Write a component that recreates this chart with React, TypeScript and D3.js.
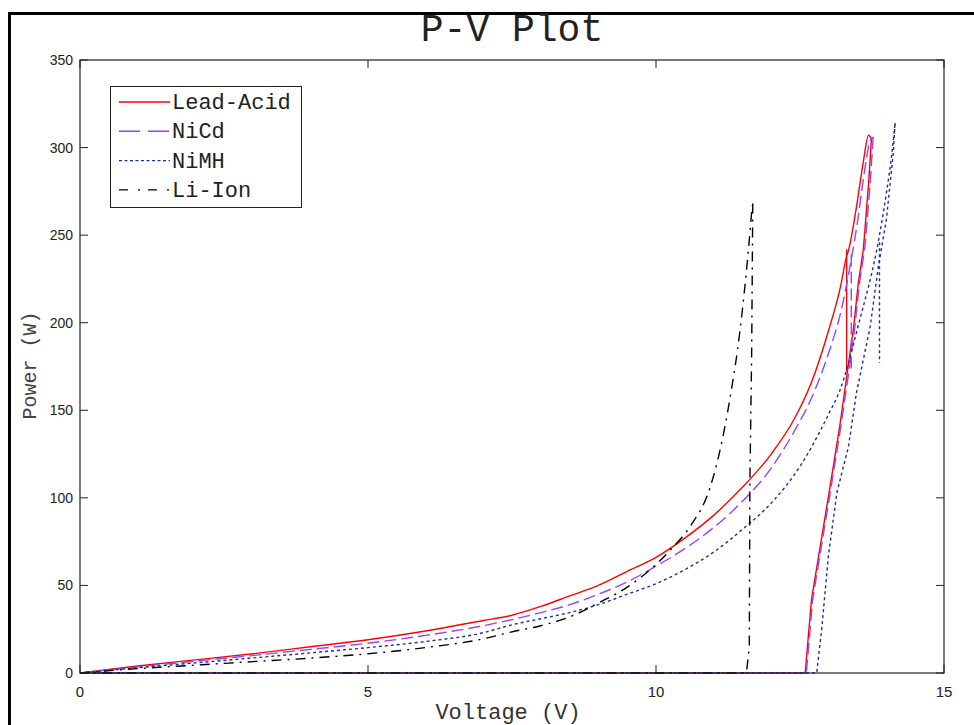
import React from "react";
import * as d3 from "d3";

type Pt = [number, number];

const seriesNames = ["Lead-Acid", "NiCd", "NiMH", "Li-Ion"];
const xTicks = [0, 5, 10, 15];
const yTicks = [0, 50, 100, 150, 200, 250, 300, 350];

// Lead-Acid
const leadRise: Pt[] = [[0,0],[1,4],[2,7.5],[3,11],[4,15],[5,19],[6,24],[7,30],[7.5,33],[8,38],[8.5,44],[9,50],[9.5,58],[10,66],[10.5,77],[11,90],[11.5,106],[12,125],[12.4,145],[12.7,166],[13.0,196],[13.2,220],[13.31,238],[13.34,241],[13.48,266],[13.6,292],[13.69,307],[13.74,305]];
const leadFall: Pt[] = [[13.74,305],[13.69,279],[13.6,242],[13.51,222],[13.43,197],[13.34,176],[13.19,141],[13.02,106],[12.85,72],[12.7,42],[12.59,0],[0,0]];
const leadDrop: Pt[] = [[13.31,242],[13.31,172]];

// NiCd
const nicdRise: Pt[] = [[0,0],[1,3.5],[2,6.8],[3,10],[4,13.5],[5,17],[6,21.5],[7,27],[7.5,30.5],[8,34.5],[8.5,39],[9,45],[9.5,52],[10,61],[10.5,71],[11,83],[11.5,98],[12,117],[12.4,138],[12.7,157],[13.0,183],[13.2,205],[13.39,236],[13.5,258],[13.6,282],[13.72,304],[13.77,306]];
const nicdFall: Pt[] = [[13.77,306],[13.72,280],[13.63,244],[13.53,222],[13.45,197],[13.37,177],[13.21,141],[13.04,106],[12.87,72],[12.72,42],[12.61,0],[0,0]];
const nicdDrop: Pt[] = [[13.39,239],[13.39,172]];

// NiMH
const nimhRise: Pt[] = [[0,0],[1,3],[2,5.8],[3,8.6],[4,11.5],[5,14.5],[6,18],[7,23],[7.5,27.5],[8,31],[8.5,34.5],[9,39],[9.5,45],[10,51],[10.5,59],[11,69],[11.5,82],[12,97],[12.5,118],[13,148],[13.2,162],[13.5,197],[13.88,250],[14.0,274],[14.1,298],[14.15,314]];
const nimhFall: Pt[] = [[14.15,314],[14.12,297],[14.0,259],[13.86,232],[13.72,198],[13.6,179],[13.48,160],[13.34,129],[13.14,103],[12.99,66],[12.88,26],[12.79,0],[0,0]];
const nimhDrop: Pt[] = [[13.88,246],[13.88,177]];

// Li-Ion
const liRise: Pt[] = [[0,0],[1,2.5],[2,4.5],[3,6.5],[4,8.5],[5,11],[6,14.5],[7,19.5],[7.5,23.5],[8,27],[8.5,32],[9,40],[9.5,49],[10,62],[10.3,72],[10.6,84],[10.94,106],[11.11,127],[11.28,156],[11.46,196],[11.6,240],[11.67,267]];
const liFall: Pt[] = [[11.68,268],[11.66,180],[11.63,110],[11.62,15],[11.57,0],[0,0]];

const seriesColors = ["#ff0000", "#9a40ff", "#1f2f99", "#000000"];
const plotDash = ["", "12,5", "3,3", "10,6,2,6"];
const legendDash = ["", "21,8", "3,2.5", "9,10,2,8"];
const seriesRise: Pt[][] = [leadRise, nicdRise, nimhRise, liRise];
const seriesOther: Pt[][][] = [
  [leadFall, leadDrop],
  [nicdFall, nicdDrop],
  [nimhFall, nimhDrop],
  [liFall],
];

const W = 974, H = 725;
const L = 80, R = 944, T = 60, B = 673;

export default function App() {
  const x = d3.scaleLinear().domain([0, 15]).range([L, R]);
  const y = d3.scaleLinear().domain([0, 350]).range([B, T]);
  const line = d3.line<Pt>().x(d => x(d[0])).y(d => y(d[1]));
  const smooth = d3.line<Pt>().x(d => x(d[0])).y(d => y(d[1])).curve(d3.curveMonotoneX);
  const mono = "'Liberation Mono', 'Courier New', monospace";
  const sans = "'Liberation Sans', Arial, sans-serif";
  const tickLen = 8;
  return (
    <svg width={W} height={H} style={{ position: "absolute", left: 0, top: 0, background: "#fff" }}>
      <defs>
        <clipPath id="clip"><rect x={L} y={T - 2} width={R - L} height={B - T + 4} /></clipPath>
      </defs>
      <rect x={0} y={0} width={W} height={H} fill="#fff" />
      {/* outer frame */}
      <line x1={9.5} y1={12} x2={9.5} y2={H} stroke="#000" strokeWidth={3} />
      <line x1={8} y1={13.5} x2={W} y2={13.5} stroke="#000" strokeWidth={3} />
      <text x={512} y={41} textAnchor="middle" fontFamily={mono} fontSize={38} fill="#222">P-V Plot</text>
      {/* series */}
      <g clipPath="url(#clip)">
        {seriesRise.map((rise, i) => (
          <g key={i}>
            <path d={smooth(rise) || ""} fill="none" stroke={seriesColors[i]} strokeWidth={1.4}
              strokeDasharray={plotDash[i] || undefined} />
            {seriesOther[i].map((s, j) => (
              <path key={j} d={line(s) || ""} fill="none" stroke={seriesColors[i]} strokeWidth={1.4}
                strokeDasharray={plotDash[i] || undefined} />
            ))}
          </g>
        ))}
      </g>
      {/* axes box */}
      <rect x={L} y={T} width={R - L} height={B - T} fill="none" stroke="#222" strokeWidth={1.2} />
      {xTicks.map(t => (
        <g key={"x" + t}>
          <line x1={x(t)} x2={x(t)} y1={B} y2={B - tickLen} stroke="#222" />
          <line x1={x(t)} x2={x(t)} y1={T} y2={T + tickLen} stroke="#222" />
          <text x={x(t)} y={697} textAnchor="middle" fontFamily={sans} fontSize={15} fill="#222">{t}</text>
        </g>
      ))}
      {yTicks.map(t => (
        <g key={"y" + t}>
          <line x1={L} x2={L + tickLen} y1={y(t)} y2={y(t)} stroke="#222" />
          <line x1={R} x2={R - tickLen} y1={y(t)} y2={y(t)} stroke="#222" />
          <text x={73} y={y(t) + 5} textAnchor="end" fontFamily={sans} fontSize={14} fill="#222">{t}</text>
        </g>
      ))}
      <text x={508} y={719} textAnchor="middle" fontFamily={mono} fontSize={22} fill="#333">Voltage (V)</text>
      <text transform={`translate(36,${y(175) - 1}) rotate(-90)`} textAnchor="middle" fontFamily={mono} fontSize={20} fill="#444">Power (W)</text>
      {/* legend */}
      <rect x={110.5} y={86.5} width={191} height={121} fill="#fff" stroke="#222" strokeWidth={1} />
      {seriesNames.map((n, i) => {
        const ly = 102 + i * 29.3;
        return (
          <g key={n}>
            <line x1={119} x2={170} y1={ly} y2={ly} stroke={seriesColors[i]} strokeWidth={1.4}
              strokeDasharray={legendDash[i] || undefined} />
            <text x={172} y={ly + 7} fontFamily={mono} fontSize={22} fill="#222">{n}</text>
          </g>
        );
      })}
    </svg>
  );
}
